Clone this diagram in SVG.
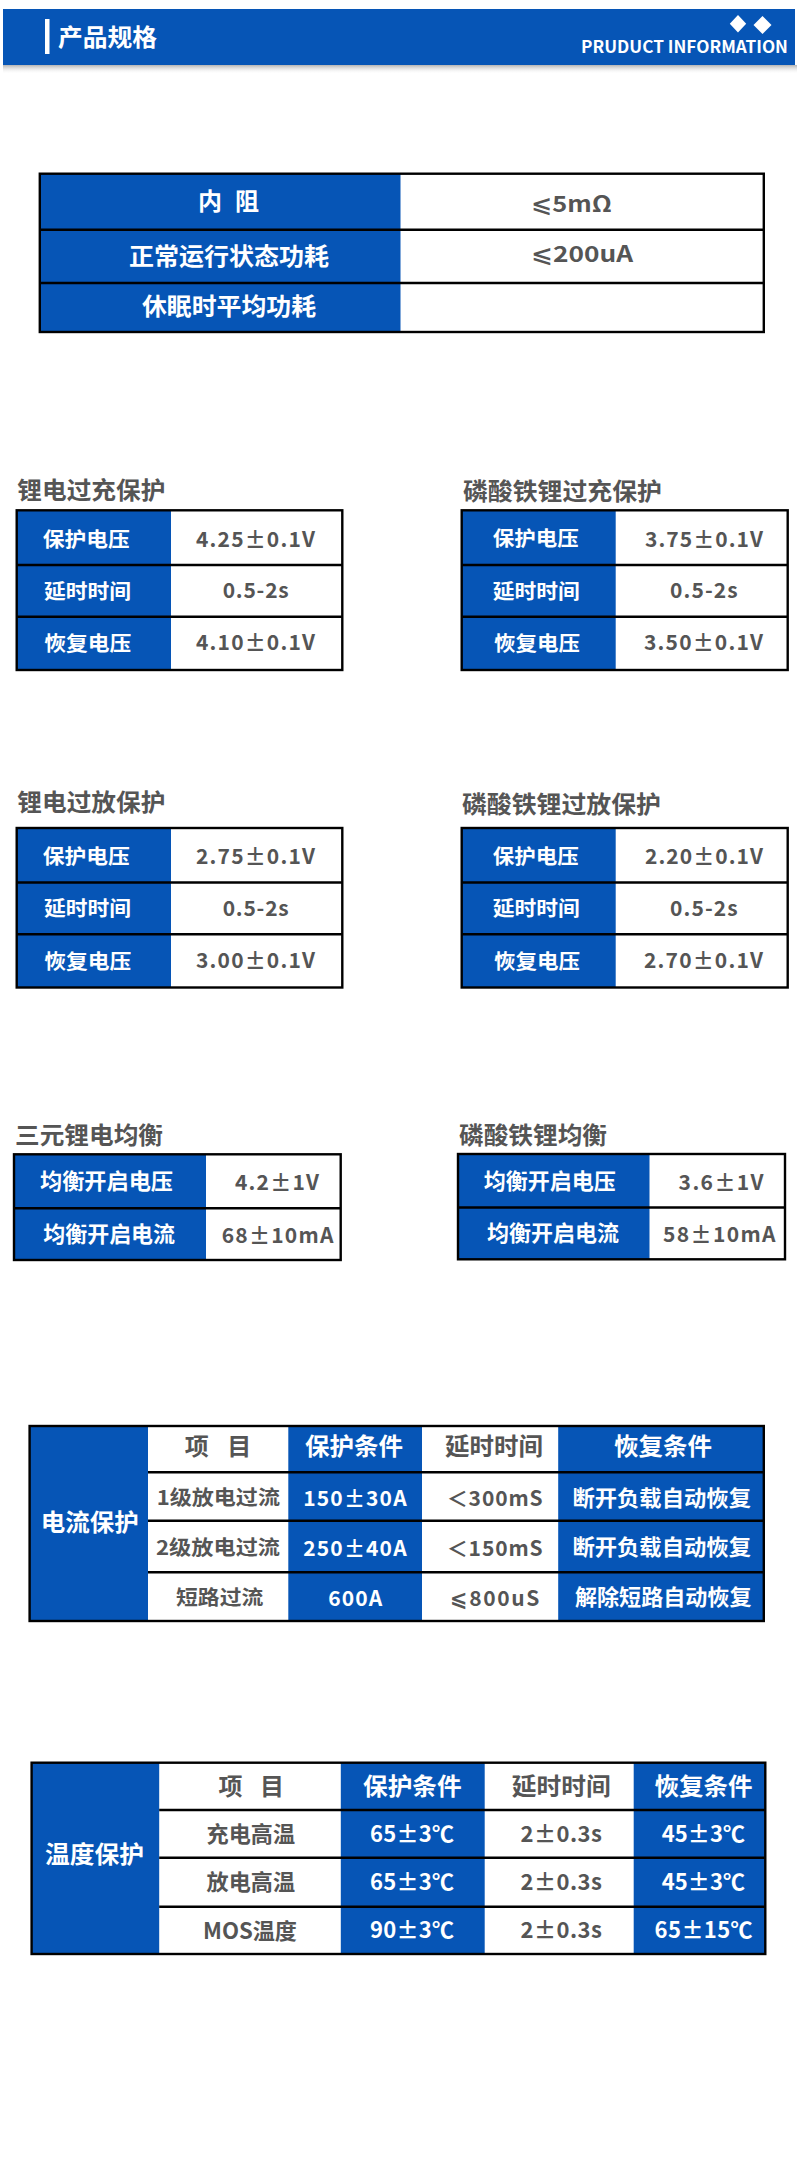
<svg xmlns="http://www.w3.org/2000/svg" width="800" height="2164" viewBox="0 0 800 2164">
<defs>
<linearGradient id="sh" x1="0" y1="0" x2="0" y2="1">
<stop offset="0" stop-color="#9a9a9a" stop-opacity="0.75"/>
<stop offset="1" stop-color="#ffffff" stop-opacity="0"/>
</linearGradient>
<style>
.bl{fill:#0655b6}
.wh{fill:#ffffff}
.ln{stroke:#000;stroke-width:2.4;fill:none}
text{font-family:"Noto Sans CJK SC","DejaVu Sans",sans-serif;font-weight:700}
.lt{fill:#ffffff}
.gt{fill:#555555}
.s24{font-size:24px}
.s22{font-size:22px}
.s20{font-size:20px}
.v{font-size:21px}
</style>
</defs>
<rect x="0" y="0" width="800" height="2164" fill="#ffffff"/>

<g id="header">
<rect x="3" y="65" width="794" height="9" fill="url(#sh)"/>
<rect x="3" y="9" width="792" height="56" class="bl"/>
<rect x="45" y="19" width="4.5" height="35" fill="#ffffff"/>
<text x="58" y="46" class="lt s24" textLength="99" lengthAdjust="spacingAndGlyphs">产品规格</text>
<polygon points="738,15 746.2,23.7 738,32.4 729.8,23.7" fill="#ffffff"/>
<polygon points="762.5,16 771.5,25 762.5,34 753.5,25" fill="#ffffff"/>
<text x="581" y="52.7" class="lt" style="font-size:16.5px" textLength="207" lengthAdjust="spacingAndGlyphs">PRUDUCT INFORMATION</text>
</g>

<g id="table-basic">
<rect x="39.8" y="173.7" width="724" height="158.3" class="wh"/>
<rect x="39.8" y="173.7" width="360.7" height="158.3" class="bl"/>
<line x1="39.8" y1="229.7" x2="763.8" y2="229.7" class="ln"/>
<line x1="39.8" y1="283" x2="763.8" y2="283" class="ln"/>
<rect x="39.8" y="173.7" width="724" height="158.3" class="ln"/>
<text x="198" y="210" class="lt s24" textLength="61" lengthAdjust="spacing">内 阻</text>
<text x="129" y="265" class="lt s24" textLength="200" lengthAdjust="spacingAndGlyphs">正常运行状态功耗</text>
<text x="142" y="315" class="lt s24" textLength="174" lengthAdjust="spacingAndGlyphs">休眠时平均功耗</text>
<text x="531" y="211.5" class="gt s22" textLength="81" lengthAdjust="spacingAndGlyphs">⩽5mΩ</text>
<text x="531" y="262" class="gt s22" textLength="102" lengthAdjust="spacingAndGlyphs">⩽200uA</text>
</g>

<g id="li-overcharge">
<text x="17.3" y="499" class="gt s24" textLength="148" lengthAdjust="spacingAndGlyphs">锂电过充保护</text>
<rect x="16.7" y="510.3" width="325.6" height="159.7" class="wh"/>
<rect x="16.7" y="510.3" width="154.3" height="159.7" class="bl"/>
<line x1="16.7" y1="565" x2="342.3" y2="565" class="ln"/>
<line x1="16.7" y1="616.7" x2="342.3" y2="616.7" class="ln"/>
<rect x="16.7" y="510.3" width="325.6" height="159.7" class="ln"/>
<text x="42.7" y="546.5" class="lt s20" textLength="87" lengthAdjust="spacingAndGlyphs">保护电压</text>
<text x="44" y="598.5" class="lt s20" textLength="87" lengthAdjust="spacingAndGlyphs">延时时间</text>
<text x="44.3" y="651" class="lt s20" textLength="87" lengthAdjust="spacingAndGlyphs">恢复电压</text>
<text x="196" y="546.5" class="gt v" textLength="119" lengthAdjust="spacing">4.25±0.1V</text>
<text x="222.7" y="598.3" class="gt v" textLength="66" lengthAdjust="spacing">0.5-2s</text>
<text x="196" y="650" class="gt v" textLength="119" lengthAdjust="spacing">4.10±0.1V</text>
</g>

<g id="lfp-overcharge">
<text x="463" y="499.5" class="gt s24" textLength="199" lengthAdjust="spacingAndGlyphs">磷酸铁锂过充保护</text>
<rect x="461.7" y="510.3" width="326" height="159.7" class="wh"/>
<rect x="461.7" y="510.3" width="154" height="159.7" class="bl"/>
<line x1="461.7" y1="565" x2="787.7" y2="565" class="ln"/>
<line x1="461.7" y1="616.7" x2="787.7" y2="616.7" class="ln"/>
<rect x="461.7" y="510.3" width="326" height="159.7" class="ln"/>
<text x="492.7" y="546" class="lt s20" textLength="86" lengthAdjust="spacingAndGlyphs">保护电压</text>
<text x="492.7" y="598.5" class="lt s20" textLength="87" lengthAdjust="spacingAndGlyphs">延时时间</text>
<text x="494" y="651" class="lt s20" textLength="86" lengthAdjust="spacingAndGlyphs">恢复电压</text>
<text x="645" y="546.5" class="gt v" textLength="118" lengthAdjust="spacing">3.75±0.1V</text>
<text x="670" y="598.3" class="gt v" textLength="67.7" lengthAdjust="spacing">0.5-2s</text>
<text x="644" y="650" class="gt v" textLength="119" lengthAdjust="spacing">3.50±0.1V</text>
</g>

<g id="li-overdischarge">
<text x="17.3" y="810.5" class="gt s24" textLength="148" lengthAdjust="spacingAndGlyphs">锂电过放保护</text>
<rect x="16.7" y="828" width="325.6" height="159.5" class="wh"/>
<rect x="16.7" y="828" width="154.3" height="159.5" class="bl"/>
<line x1="16.7" y1="882.5" x2="342.3" y2="882.5" class="ln"/>
<line x1="16.7" y1="934.2" x2="342.3" y2="934.2" class="ln"/>
<rect x="16.7" y="828" width="325.6" height="159.5" class="ln"/>
<text x="42.7" y="864" class="lt s20" textLength="87" lengthAdjust="spacingAndGlyphs">保护电压</text>
<text x="44" y="916" class="lt s20" textLength="87" lengthAdjust="spacingAndGlyphs">延时时间</text>
<text x="44.3" y="968.5" class="lt s20" textLength="87" lengthAdjust="spacingAndGlyphs">恢复电压</text>
<text x="196" y="864" class="gt v" textLength="119" lengthAdjust="spacing">2.75±0.1V</text>
<text x="222.7" y="915.8" class="gt v" textLength="66" lengthAdjust="spacing">0.5-2s</text>
<text x="196" y="967.5" class="gt v" textLength="119" lengthAdjust="spacing">3.00±0.1V</text>
</g>

<g id="lfp-overdischarge">
<text x="462" y="812.5" class="gt s24" textLength="199" lengthAdjust="spacingAndGlyphs">磷酸铁锂过放保护</text>
<rect x="461.7" y="828" width="326" height="159.5" class="wh"/>
<rect x="461.7" y="828" width="154" height="159.5" class="bl"/>
<line x1="461.7" y1="882.5" x2="787.7" y2="882.5" class="ln"/>
<line x1="461.7" y1="934.2" x2="787.7" y2="934.2" class="ln"/>
<rect x="461.7" y="828" width="326" height="159.5" class="ln"/>
<text x="492.7" y="864" class="lt s20" textLength="86" lengthAdjust="spacingAndGlyphs">保护电压</text>
<text x="492.7" y="916" class="lt s20" textLength="87" lengthAdjust="spacingAndGlyphs">延时时间</text>
<text x="494" y="968.5" class="lt s20" textLength="86" lengthAdjust="spacingAndGlyphs">恢复电压</text>
<text x="645" y="864" class="gt v" textLength="118" lengthAdjust="spacing">2.20±0.1V</text>
<text x="670" y="915.8" class="gt v" textLength="67.7" lengthAdjust="spacing">0.5-2s</text>
<text x="644" y="967.5" class="gt v" textLength="119" lengthAdjust="spacing">2.70±0.1V</text>
</g>

<g id="ncm-balance">
<text x="15" y="1143.5" class="gt s24" textLength="148" lengthAdjust="spacingAndGlyphs">三元锂电均衡</text>
<rect x="14" y="1154.3" width="326.7" height="105.7" class="wh"/>
<rect x="14" y="1154.3" width="192" height="105.7" class="bl"/>
<line x1="14" y1="1208.3" x2="340.7" y2="1208.3" class="ln"/>
<rect x="14" y="1154.3" width="326.7" height="105.7" class="ln"/>
<text x="40" y="1189" class="lt s22" textLength="133" lengthAdjust="spacingAndGlyphs">均衡开启电压</text>
<text x="43.3" y="1241.5" class="lt s22" textLength="131.7" lengthAdjust="spacingAndGlyphs">均衡开启电流</text>
<text x="235" y="1190" class="gt v" textLength="84" lengthAdjust="spacing">4.2±1V</text>
<text x="221.7" y="1242.7" class="gt v" textLength="111.7" lengthAdjust="spacing">68±10mA</text>
</g>

<g id="lfp-balance">
<text x="459" y="1143.5" class="gt s24" textLength="148" lengthAdjust="spacingAndGlyphs">磷酸铁锂均衡</text>
<rect x="458" y="1154" width="327" height="105.3" class="wh"/>
<rect x="458" y="1154" width="191.5" height="105.3" class="bl"/>
<line x1="458" y1="1207.5" x2="785" y2="1207.5" class="ln"/>
<rect x="458" y="1154" width="327" height="105.3" class="ln"/>
<text x="483.7" y="1188.5" class="lt s22" textLength="132" lengthAdjust="spacingAndGlyphs">均衡开启电压</text>
<text x="487" y="1241" class="lt s22" textLength="132" lengthAdjust="spacingAndGlyphs">均衡开启电流</text>
<text x="678.6" y="1189.5" class="gt v" textLength="85" lengthAdjust="spacing">3.6±1V</text>
<text x="663" y="1242" class="gt v" textLength="112.5" lengthAdjust="spacing">58±10mA</text>
</g>

<g id="current-protection">
<rect x="29.6" y="1426" width="734.2" height="195" class="wh"/>
<rect x="29.6" y="1426" width="118.4" height="195" class="bl"/>
<rect x="288.3" y="1426" width="133.7" height="195" class="bl"/>
<rect x="558.2" y="1426" width="205.6" height="195" class="bl"/>
<line x1="148" y1="1472.3" x2="763.8" y2="1472.3" class="ln"/>
<line x1="148" y1="1520.7" x2="763.8" y2="1520.7" class="ln"/>
<line x1="148" y1="1572.3" x2="763.8" y2="1572.3" class="ln"/>
<rect x="29.6" y="1426" width="734.2" height="195" class="ln"/>
<text x="40.8" y="1531" class="lt s24" textLength="98" lengthAdjust="spacingAndGlyphs">电流保护</text>
<text x="184.7" y="1455" class="gt s24" textLength="66.5" lengthAdjust="spacing">项　目</text>
<text x="305" y="1455" class="lt s24" textLength="98" lengthAdjust="spacingAndGlyphs">保护条件</text>
<text x="445" y="1455" class="gt s24" textLength="98" lengthAdjust="spacingAndGlyphs">延时时间</text>
<text x="614" y="1455" class="lt s24" textLength="98" lengthAdjust="spacingAndGlyphs">恢复条件</text>
<text x="156.7" y="1505" class="gt s20" textLength="123.3" lengthAdjust="spacingAndGlyphs">1级放电过流</text>
<text x="303.3" y="1506" class="lt v" textLength="103.3" lengthAdjust="spacing">150±30A</text>
<text x="446.7" y="1506" class="gt v" textLength="96" lengthAdjust="spacing">＜300mS</text>
<text x="572.4" y="1505.5" class="lt s22" textLength="178.6" lengthAdjust="spacingAndGlyphs">断开负载自动恢复</text>
<text x="156" y="1554.5" class="gt s20" textLength="124" lengthAdjust="spacingAndGlyphs">2级放电过流</text>
<text x="303.3" y="1555.5" class="lt v" textLength="103.3" lengthAdjust="spacing">250±40A</text>
<text x="446.7" y="1555.5" class="gt v" textLength="96" lengthAdjust="spacing">＜150mS</text>
<text x="572.4" y="1554.5" class="lt s22" textLength="178.6" lengthAdjust="spacingAndGlyphs">断开负载自动恢复</text>
<text x="176" y="1604.5" class="gt s20" textLength="87.3" lengthAdjust="spacingAndGlyphs">短路过流</text>
<text x="328.3" y="1605.5" class="lt v" textLength="54" lengthAdjust="spacing">600A</text>
<text x="450" y="1605.5" class="gt v" textLength="89.3" lengthAdjust="spacing">⩽800uS</text>
<text x="575" y="1604.5" class="lt s22" textLength="176.5" lengthAdjust="spacingAndGlyphs">解除短路自动恢复</text>
</g>

<g id="temperature-protection">
<rect x="31.6" y="1762.7" width="733.7" height="191.3" class="wh"/>
<rect x="31.6" y="1762.7" width="127.6" height="191.3" class="bl"/>
<rect x="340.8" y="1762.7" width="143.9" height="191.3" class="bl"/>
<rect x="633.7" y="1762.7" width="131.6" height="191.3" class="bl"/>
<line x1="159.2" y1="1810" x2="765.3" y2="1810" class="ln"/>
<line x1="159.2" y1="1857.7" x2="765.3" y2="1857.7" class="ln"/>
<line x1="159.2" y1="1906.7" x2="765.3" y2="1906.7" class="ln"/>
<rect x="31.6" y="1762.7" width="733.7" height="191.3" class="ln"/>
<text x="44.9" y="1863" class="lt s24" textLength="99" lengthAdjust="spacingAndGlyphs">温度保护</text>
<text x="218.4" y="1794.5" class="gt s24" textLength="65.6" lengthAdjust="spacing">项　目</text>
<text x="363" y="1794.5" class="lt s24" textLength="98.7" lengthAdjust="spacingAndGlyphs">保护条件</text>
<text x="511.7" y="1794.5" class="gt s24" textLength="99" lengthAdjust="spacingAndGlyphs">延时时间</text>
<text x="654.6" y="1794.5" class="lt s24" textLength="98" lengthAdjust="spacingAndGlyphs">恢复条件</text>
<text x="206.6" y="1842" class="gt s22" textLength="88.4" lengthAdjust="spacingAndGlyphs">充电高温</text>
<text x="370" y="1841.7" class="lt s22" textLength="84" lengthAdjust="spacing">65±3℃</text>
<text x="520.4" y="1841.7" class="gt s22" textLength="81.6" lengthAdjust="spacing">2±0.3s</text>
<text x="661.7" y="1841.7" class="lt s22" textLength="83.3" lengthAdjust="spacing">45±3℃</text>
<text x="206.6" y="1890" class="gt s22" textLength="88.4" lengthAdjust="spacingAndGlyphs">放电高温</text>
<text x="370" y="1889.7" class="lt s22" textLength="84" lengthAdjust="spacing">65±3℃</text>
<text x="520.4" y="1889.7" class="gt s22" textLength="81.6" lengthAdjust="spacing">2±0.3s</text>
<text x="661.7" y="1889.7" class="lt s22" textLength="83.3" lengthAdjust="spacing">45±3℃</text>
<text x="203" y="1938.5" class="gt s22" textLength="94" lengthAdjust="spacingAndGlyphs">MOS温度</text>
<text x="370" y="1938.2" class="lt s22" textLength="84" lengthAdjust="spacing">90±3℃</text>
<text x="520.4" y="1938.2" class="gt s22" textLength="81.6" lengthAdjust="spacing">2±0.3s</text>
<text x="654.6" y="1938.2" class="lt s22" textLength="98" lengthAdjust="spacing">65±15℃</text>
</g>
</svg>
